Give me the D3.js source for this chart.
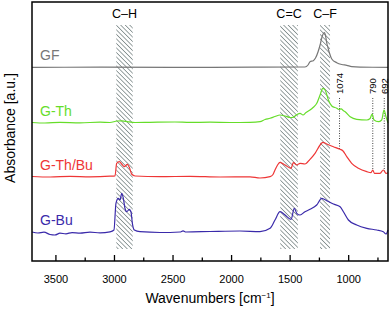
<!DOCTYPE html>
<html>
<head>
<meta charset="utf-8">
<script src="https://cdn.jsdelivr.net/npm/d3@7"></script>
<style>
  body { margin: 0; background: #fff; }
  text { font-family: "Liberation Sans", Arial, Helvetica, sans-serif; }
</style>
</head>
<body>
<div id="chart"></div>
<script>
// spectra: [wavenumber, absorbance (a.u., offset per curve)]
var gfData = [[3700,193.7],[3119,193.8],[2500,193.7],[1800,193.8],[1369,194],[1343,196],[1326,199.3],[1298,200.3],
  [1279,203],[1257,209.3],[1240,216],[1226,223],[1214,227],[1203,228.3],[1193,225],[1183,218],[1172,213],
  [1160,208],[1140,202],[1098,198.3],[1055,196.5],[1012,195.7],[970,194.3],[899,193.8],[660,193.7]];

var gThData = [[3700,138.5],[3589,138],[3461,138.7],[3290,138.2],[3119,138.8],[3034,138.5],[2974,140],[2931,140.2],
  [2880,139.2],[2820,138.5],[2692,138.7],[2479,139],[2351,138.6],[2180,138.8],[2009,138.5],[1838,138.7],
  [1753,139.3],[1710,141.5],[1667,142.7],[1625,144.5],[1582,146],[1539,145],[1496,143.5],[1471,143.7],
  [1437,146.5],[1411,147.7],[1386,146],[1360,148.5],[1326,151],[1300,153.5],[1268,157.7],[1240,166],
  [1217,172.7],[1197,171],[1169,161],[1140,155],[1097,152.7],[1080,151.5],[1060,152.2],[1040,150.2],
  [1026,149.3],[983,144.3],[927,141.7],[841,141],[813,142.5],[796,147],[779,141],[743,139.3],[714,141],
  [694,151],[677,144.3],[660,138]];

var gThBuData = [[3700,84.5],[3546,84],[3375,84.7],[3205,84.2],[3034,84.8],[2991,85.2],[2977,97.7],[2954,99.3],
  [2934,97],[2912,94.3],[2886,96.7],[2869,93.7],[2849,87],[2820,85],[2607,84.3],[2351,84.7],[2094,84],
  [1838,84.2],[1753,83],[1667,84.3],[1642,86.5],[1625,91],[1603,96],[1582,98.7],[1539,96],[1488,92.7],
  [1468,98.3],[1439,96],[1411,97.7],[1369,97],[1326,101.7],[1283,107.7],[1240,116],[1217,118.7],[1183,117],
  [1126,114.3],[1069,111.7],[1046,110.3],[1012,104.3],[970,97.7],[913,92.7],[841,89.3],[805,88.3],[790,91],
  [776,87.7],[728,87.7],[700,91],[677,87.7],[660,88.3]];

var gBuData = [[3700,29],[3649,28],[3598,28.8],[3546,26.5],[3504,26],[3461,27.8],[3410,27.2],[3358,28.4],
  [3290,27.8],[3205,28.8],[3119,28.2],[3034,29.2],[3000,31],[2983,57.7],[2963,62.7],[2948,61],[2934,67.7],
  [2920,62.7],[2906,52.7],[2891,49.3],[2869,51.7],[2855,49.3],[2843,37.7],[2826,31],[2778,29.3],[2607,28.5],
  [2436,29],[2410,30.2],[2385,29],[2180,29.5],[1924,30],[1753,29.3],[1667,32.7],[1625,41],[1582,49.3],
  [1539,46],[1488,41.7],[1460,52.7],[1439,47.7],[1411,46],[1369,49.3],[1326,51.7],[1269,56],[1226,62.7],
  [1183,60.3],[1126,57],[1069,54.3],[1041,49.3],[998,41],[927,36],[841,32.7],[756,31],[700,29.3],[677,27],[660,31]];

var seriesNames = ["GF", "G-Th", "G-Th/Bu", "G-Bu"];
var seriesColors = ["#777777", "#66dd2a", "#ee3636", "#3a2aaa"];
var seriesData = [gfData, gThData, gThBuData, gBuData];

var bandRanges = [[2980, 2840], [1580, 1430], [1240, 1155]];
var bandLabels = ["C\u2013H", "C=C", "C\u2013F"];

var markWn = [1074, 790, 692];
var markLabels = ["1074", "790", "692"];

var xTicks = [3500, 3000, 2500, 2000, 1500, 1000];
var xMinor = [3250, 2750, 2250, 1750, 1250, 750];

var width = 390, height = 311;
var pLeft = 32, pRight = 388, pTop = 2, pBottom = 261;

var svg = d3.select("#chart").append("svg")
  .attr("width", width)
  .attr("height", height);

var x = d3.scaleLinear().domain([3700, 660]).range([pLeft, pRight]);
var y = d3.scaleLinear().domain([0, 259]).range([pBottom, pTop]);

// hatch pattern for bands
var defs = svg.append("defs");
defs.append("pattern")
  .attr("id", "hatch")
  .attr("patternUnits", "userSpaceOnUse")
  .attr("width", 3.2)
  .attr("height", 3.2)
  .attr("patternTransform", "rotate(-45)")
  .append("line")
  .attr("x1", 0).attr("y1", 0)
  .attr("x2", 0).attr("y2", 3.2)
  .attr("stroke", "#6f7c7c")
  .attr("stroke-width", 1.4);

svg.selectAll(".band")
  .data(bandRanges)
  .enter().append("rect")
  .attr("class", "band")
  .attr("x", function(d) { return x(d[0]); })
  .attr("width", function(d) { return x(d[1]) - x(d[0]); })
  .attr("y", 25)
  .attr("height", 224)
  .attr("fill", "url(#hatch)");

svg.selectAll(".bandLabel")
  .data(bandRanges)
  .enter().append("text")
  .attr("class", "bandLabel")
  .attr("x", function(d) { return x((d[0] + d[1]) / 2); })
  .attr("y", 18)
  .attr("text-anchor", "middle")
  .style("font-size", "12.5px")
  .text(function(d, i) { return bandLabels[i]; });

// dotted markers down to the G-Th/Bu curve
function valueAt(data, wn) {
  for (var i = 0; i < data.length - 1; i++) {
    var a = data[i], b = data[i + 1];
    if (wn <= a[0] && wn >= b[0]) {
      return a[1] + (b[1] - a[1]) * (a[0] - wn) / (a[0] - b[0]);
    }
  }
  return data[data.length - 1][1];
}

svg.selectAll(".mark")
  .data(markWn)
  .enter().append("line")
  .attr("class", "mark")
  .attr("x1", function(d) { return x(d); })
  .attr("x2", function(d) { return x(d); })
  .attr("y1", 98)
  .attr("y2", function(d) { return y(valueAt(gThBuData, d)); })
  .attr("stroke", "#444")
  .attr("stroke-width", 1)
  .attr("stroke-dasharray", "1,1.5");

svg.selectAll(".markLabel")
  .data(markWn)
  .enter().append("text")
  .attr("class", "markLabel")
  .attr("transform", function(d) { return "translate(" + (x(d) + 3.5) + ",94) rotate(-90)"; })
  .style("font-size", "9.5px")
  .text(function(d, i) { return markLabels[i]; });

// spectra
var line = d3.line()
  .x(function(d) { return x(d[0]); })
  .y(function(d) { return y(d[1]); })
  .curve(d3.curveMonotoneX);

svg.selectAll(".spec")
  .data(seriesData)
  .enter().append("path")
  .attr("class", "spec")
  .attr("d", line)
  .attr("fill", "none")
  .attr("stroke", function(d, i) { return seriesColors[i]; })
  .attr("stroke-width", 1.2);

svg.selectAll(".specLabel")
  .data(seriesData)
  .enter().append("text")
  .attr("class", "specLabel")
  .attr("x", 40)
  .attr("y", function(d) { return y(d[0][1]) - 7; })
  .attr("fill", function(d, i) { return seriesColors[i]; })
  .style("font-size", "14px")
  .text(function(d, i) { return seriesNames[i]; });

// frame
svg.append("rect")
  .attr("x", pLeft).attr("y", pTop)
  .attr("width", pRight - pLeft).attr("height", pBottom - pTop)
  .attr("fill", "none")
  .attr("stroke", "#000")
  .attr("stroke-width", 1.5);

// x axis
var xAxis = d3.axisBottom(x)
  .tickValues(xTicks)
  .tickSize(-6)
  .tickPadding(14)
  .tickFormat(d3.format("d"));

var gx = svg.append("g")
  .attr("transform", "translate(0," + pBottom + ")")
  .call(xAxis);
gx.select(".domain").remove();
gx.selectAll(".tick line").attr("stroke-width", 1.3);
gx.selectAll(".tick text")
  .style("font-size", "11px")
  .style("font-family", "'Liberation Sans', Arial, sans-serif")
  .attr("fill", "#000");

var gm = svg.append("g")
  .attr("transform", "translate(0," + pBottom + ")")
  .call(d3.axisBottom(x).tickValues(xMinor).tickSize(-3.5).tickFormat(""));
gm.select(".domain").remove();
gm.selectAll(".tick line").attr("stroke-width", 1.3);

var xt = svg.append("text")
  .attr("x", 210)
  .attr("y", 303)
  .attr("text-anchor", "middle")
  .style("font-size", "14px");
xt.append("tspan").text("Wavenumbers [cm");
xt.append("tspan").attr("dy", -5).style("font-size", "8px").text("\u22121");
xt.append("tspan").attr("dy", 5).text("]");

svg.append("text")
  .attr("transform", "translate(15,128) rotate(-90)")
  .attr("text-anchor", "middle")
  .style("font-size", "14px")
  .text("Absorbance [a.u.]");
</script>
</body>
</html>
